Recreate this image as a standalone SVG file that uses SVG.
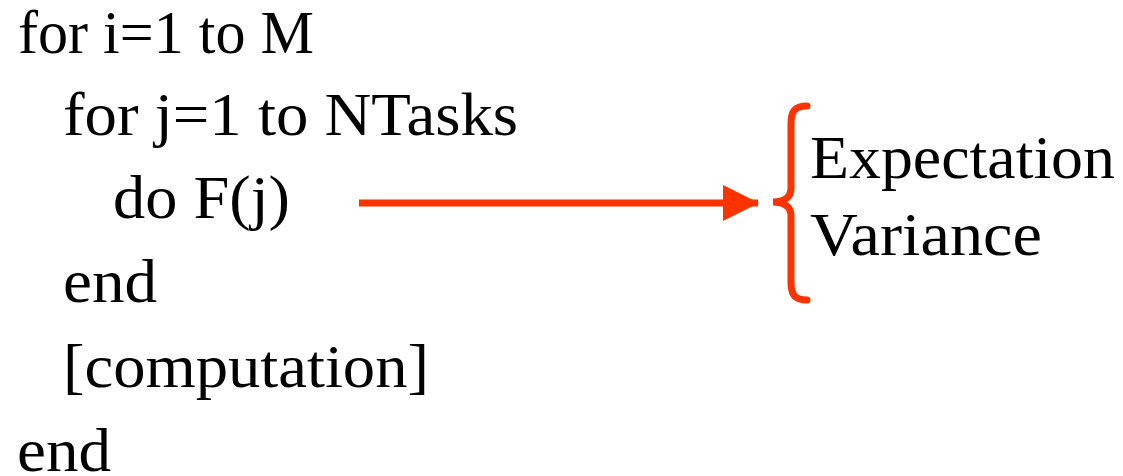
<svg xmlns="http://www.w3.org/2000/svg" width="1123" height="476" viewBox="0 0 1123 476">
  <style>
    .code { font-family: "Liberation Serif", "Times New Roman", serif; font-size: 61px; fill: #000; }
    .acc { stroke: #FF3300; stroke-width: 7; fill: none; }
  </style>
  <defs>
    <marker id="head" markerUnits="userSpaceOnUse" markerWidth="36" markerHeight="36" refX="35" refY="18" orient="auto">
      <path d="M0,0 L36,18 L0,36 Z" fill="#FF3300"/>
    </marker>
  </defs>
  <rect width="1123" height="476" fill="#fff"/>
  <g id="loop">
    <text class="code" x="18" y="53" textLength="296" lengthAdjust="spacingAndGlyphs">for i=1 to M</text>
    <text class="code" x="63" y="135" textLength="455" lengthAdjust="spacingAndGlyphs">for j=1 to NTasks</text>
    <text class="code" x="113" y="218" textLength="177" lengthAdjust="spacingAndGlyphs">do F(j)</text>
    <text class="code" x="63" y="302" textLength="94" lengthAdjust="spacingAndGlyphs">end</text>
    <text class="code" x="63" y="387" textLength="366" lengthAdjust="spacingAndGlyphs">[computation]</text>
    <text class="code" x="17" y="471" textLength="94" lengthAdjust="spacingAndGlyphs">end</text>
  </g>
  <g id="results">
    <path class="acc" stroke-linecap="round" d="M807,106 C794,106 791,112 791,124 L791,188 C791,197 785,202 773,202 C785,202 791,207 791,216 L791,282 C791,294 794,300 807,300"/>
    <text class="code" x="810" y="178" textLength="305" lengthAdjust="spacingAndGlyphs">Expectation</text>
    <text class="code" x="810" y="255" textLength="232" lengthAdjust="spacingAndGlyphs">Variance</text>
  </g>
  <g id="connectors">
    <line class="acc" x1="359" y1="203" x2="758" y2="203" marker-end="url(#head)"/>
  </g>
</svg>
